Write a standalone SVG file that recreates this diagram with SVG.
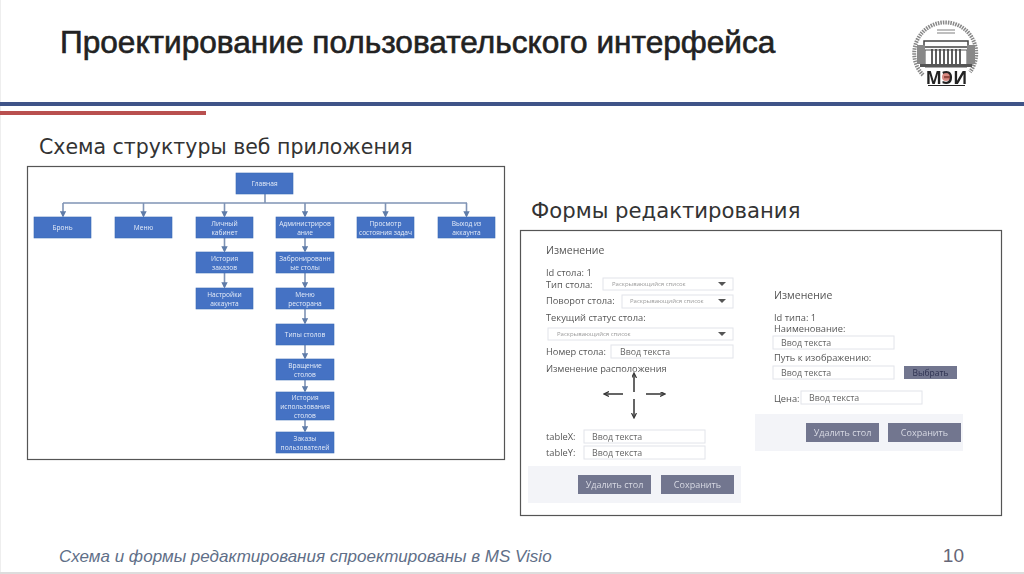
<svg xmlns="http://www.w3.org/2000/svg" width="1024" height="574" viewBox="0 0 1024 574">
<style>
text{font-family:"Open Sans","Liberation Sans",sans-serif}
.h{font-family:"Liberation Sans",Arial,sans-serif;fill:#222}
.s{font-family:"DejaVu Sans",Verdana,sans-serif;fill:#333}
.n rect{fill:#4472c4;stroke:#3d68b4;stroke-width:.6}
.n text{fill:#e6ecf8;font-size:6.600px;text-anchor:middle}
.c{stroke:#7f93b5;stroke-width:1.600;fill:none;marker-end:url(#a)}
.f{fill:#fff;stroke:#e2e4ea;stroke-width:1}
.l{fill:#555;font-size:9.300px}
.v{fill:#666;font-size:8.800px}
.d{fill:#999;font-size:6px}
.b{fill:#72768f}
.bt{fill:#d8dae4;font-size:9px;text-anchor:middle}
.ar{stroke:#333;stroke-width:1.500;fill:none;marker-end:url(#k)}
.soft{filter:url(#blur)}
</style>
<defs>
<marker id="a" markerWidth="4" markerHeight="4" refX="3" refY="2" orient="auto"><path d="M0 0L4 2L0 4Z" fill="#5f7ba8"/></marker>
<marker id="k" markerWidth="6" markerHeight="6" refX="4" refY="2.500" orient="auto" markerUnits="userSpaceOnUse"><path d="M0 0L5 2.500L0 5" fill="none" stroke="#333" stroke-width="1.200"/></marker>
<filter id="blur" x="-5%" y="-5%" width="110%" height="110%"><feGaussianBlur stdDeviation="0.6"/></filter>
</defs>
<rect width="1024" height="574" fill="#fff"/>
<rect x="0" y="0" width="1" height="574" fill="#eee"/>
<rect x="0" y="572" width="1024" height="2" fill="#ddd"/>
<g id="header">
<text class="h" x="60" y="53" font-size="31.600" stroke="#222" stroke-width=".6">Проектирование пользовательского интерфейса</text>
<rect x="0" y="102" width="1024" height="4" fill="#3f5488"/>
<rect x="0" y="111" width="206" height="4" fill="#b9504f"/>
</g>
<g id="logo" class="soft">
<path d="M923 75A31 31 0 1 1 970 72" fill="none" stroke="#888" stroke-width="4" stroke-dasharray="1.500 1"/>
<path d="M937 30h18M937 33h18" stroke="#aaa" stroke-width="1.500"/>
<path d="M925 50h42v17h-42z" fill="#fff" stroke="#555"/>
<path d="M924 41L968 41L968 47L924 47Z" fill="#fff" stroke="#444" stroke-width="1.500"/>
<path d="M932 49v15M936 49v15M940 49v15M944 49v15M948 49v15M952 49v15M956 49v15M960 49v15" stroke="#444" stroke-width="1.700"/>
<path d="M917 45h8v19h-8zM967 45h8v19h-8z" fill="#888"/>
<path d="M920 64h52v3h-52z" fill="#555"/>
<text x="946.500" y="84" font-size="17" text-anchor="middle" font-family="Liberation Serif,serif" fill="#222" font-weight="bold">МЭИ</text>
<circle cx="946" cy="77" r="4" fill="#c8584f" opacity=".7"/>
<path d="M928 85.500h37" stroke="#222"/>
</g>
<text class="s" x="39" y="154" font-size="20.500">Схема структуры веб приложения</text>
<text class="s" x="531" y="218" font-size="21.200">Формы редактирования</text>
<rect id="frame1" x="27.500" y="166.500" width="477" height="293" fill="#fff" stroke="#555" stroke-width="1.200"/>
<rect id="frame2" x="520.500" y="230.500" width="481" height="285" fill="#fff" stroke="#555" stroke-width="1.200"/>
<g class="soft">
<g id="connectors">
<path d="M265 194V203" class="c" style="marker-end:none"/>
<path d="M63 203H467" class="c" style="marker-end:none"/>
<path class="c" d="M63 203V216"/><path class="c" d="M143.500 203V216"/><path class="c" d="M224.500 203V216"/><path class="c" d="M305 203V216"/><path class="c" d="M385.500 203V216"/><path class="c" d="M466.500 203V216"/>
<path class="c" d="M224.500 238V251"/><path class="c" d="M224.500 273V287"/>
<path class="c" d="M305 238V251"/><path class="c" d="M305 273V287"/><path class="c" d="M305 309V323"/><path class="c" d="M305 345V358"/><path class="c" d="M305 380V391"/><path class="c" d="M305 420V431"/>
</g>
<g id="n-main" class="n"><rect x="236" y="173" width="57" height="21"/><text x="264.500" y="186">Главная</text></g>
<g id="n-bron" class="n"><rect x="34" y="217" width="57" height="21"/><text x="62.500" y="230">Бронь</text></g>
<g id="n-menu" class="n"><rect x="115" y="217" width="57" height="21"/><text x="143.500" y="230">Меню</text></g>
<g id="n-cab" class="n"><rect x="196" y="217" width="57" height="21"/><text x="224.500" y="226">Личный</text><text x="224.500" y="235">кабинет</text></g>
<g id="n-admin" class="n"><rect x="276" y="217" width="58" height="21"/><text x="305" y="226">Администриров</text><text x="305" y="235">ание</text></g>
<g id="n-view" class="n"><rect x="357" y="217" width="57" height="21"/><text x="385.500" y="226">Просмотр</text><text x="385.500" y="235">состояния задач</text></g>
<g id="n-exit" class="n"><rect x="438" y="217" width="57" height="21"/><text x="466.500" y="226">Выход из</text><text x="466.500" y="235">аккаунта</text></g>
<g id="n-hist" class="n"><rect x="196" y="252" width="57" height="21"/><text x="224.500" y="261">История</text><text x="224.500" y="270">заказов</text></g>
<g id="n-set" class="n"><rect x="196" y="288" width="57" height="21"/><text x="224.500" y="297">Настройки</text><text x="224.500" y="306">аккаунта</text></g>
<g id="n-booked" class="n"><rect x="276" y="252" width="58" height="21"/><text x="305" y="261">Забронированн</text><text x="305" y="270">ые столы</text></g>
<g id="n-rmenu" class="n"><rect x="276" y="288" width="58" height="21"/><text x="305" y="297">Меню</text><text x="305" y="306">ресторана</text></g>
<g id="n-types" class="n"><rect x="276" y="324" width="58" height="21"/><text x="305" y="337">Типы столов</text></g>
<g id="n-rot" class="n"><rect x="276" y="359" width="58" height="21"/><text x="305" y="368">Вращение</text><text x="305" y="377">столов</text></g>
<g id="n-use" class="n"><rect x="276" y="392" width="58" height="28"/><text x="305" y="399.500">История</text><text x="305" y="408.500">использования</text><text x="305" y="417.500">столов</text></g>
<g id="n-orders" class="n"><rect x="276" y="432" width="58" height="21"/><text x="305" y="441">Заказы</text><text x="305" y="450">пользователей</text></g>
</g>
<g id="form1" class="soft">
<rect x="528" y="466" width="213" height="37" fill="#f3f4f8"/>
<text x="546" y="254" font-size="10.500" fill="#555">Изменение</text>
<text class="l" x="546" y="276">Id стола: 1</text>
<text class="l" x="546" y="288">Тип стола:</text>
<rect class="f" x="603" y="278" width="130" height="12"/><text class="d" x="612" y="286">Раскрывающийся список</text><path d="M718 282h8l-4 4z" fill="#555"/>
<text class="l" x="546" y="304">Поворот стола:</text>
<rect class="f" x="622" y="295" width="111" height="13"/><text class="d" x="630" y="303">Раскрывающийся список</text><path d="M718 299h8l-4 4z" fill="#555"/>
<text class="l" x="546" y="321">Текущий статус стола:</text>
<rect class="f" x="548" y="328" width="185" height="12"/><text class="d" x="557" y="336">Раскрывающийся список</text><path d="M718 332h8l-4 4z" fill="#555"/>
<text class="l" x="546" y="355">Номер стола:</text>
<rect class="f" x="611" y="345" width="122" height="13"/><text class="v" x="620" y="355">Ввод текста</text>
<text class="l" x="546" y="372">Изменение расположения</text>
<path class="ar" d="M634 392V374"/><path class="ar" d="M634 399V417"/><path class="ar" d="M623 394H605"/><path class="ar" d="M646 394H664"/>
<text class="l" x="546" y="440">tableX:</text>
<rect class="f" x="584" y="430" width="121" height="13"/><text class="v" x="592" y="440">Ввод текста</text>
<text class="l" x="546" y="456">tableY:</text>
<rect class="f" x="584" y="446" width="121" height="13"/><text class="v" x="592" y="456">Ввод текста</text>
<rect class="b" x="578" y="475" width="73" height="19"/><text class="bt" x="614.500" y="488">Удалить стол</text>
<rect class="b" x="661" y="475" width="73" height="19"/><text class="bt" x="697.500" y="488">Сохранить</text>
</g>
<g id="form2" class="soft">
<rect x="755" y="414" width="208" height="37" fill="#f3f4f8"/>
<text x="774" y="299" font-size="10.500" fill="#555">Изменение</text>
<text class="l" x="774" y="321">Id типа: 1</text>
<text class="l" x="774" y="332">Наименование:</text>
<rect class="f" x="773" y="336" width="121" height="13"/><text class="v" x="781" y="346">Ввод текста</text>
<text class="l" x="774" y="361">Путь к изображению:</text>
<rect class="f" x="773" y="366" width="121" height="13"/><text class="v" x="781" y="376">Ввод текста</text>
<rect class="b" x="904" y="366" width="53" height="13"/><text x="930.500" y="376" font-size="8.500" text-anchor="middle" fill="#2c3050">Выбрать</text>
<text class="l" x="774" y="402">Цена:</text>
<rect class="f" x="801" y="391" width="121" height="13"/><text class="v" x="809" y="401">Ввод текста</text>
<rect class="b" x="806" y="423" width="73" height="19"/><text class="bt" x="842.500" y="436">Удалить стол</text>
<rect class="b" x="888" y="423" width="73" height="19"/><text class="bt" x="924.500" y="436">Сохранить</text>
</g>
<text id="foot" x="59" y="562" font-size="17" font-style="italic" class="h" style="fill:#5f6f88">Схема и формы редактирования спроектированы в MS Visio</text>
<text id="page" x="964" y="562" font-size="19" text-anchor="end" class="h" style="fill:#667">10</text>
</svg>
